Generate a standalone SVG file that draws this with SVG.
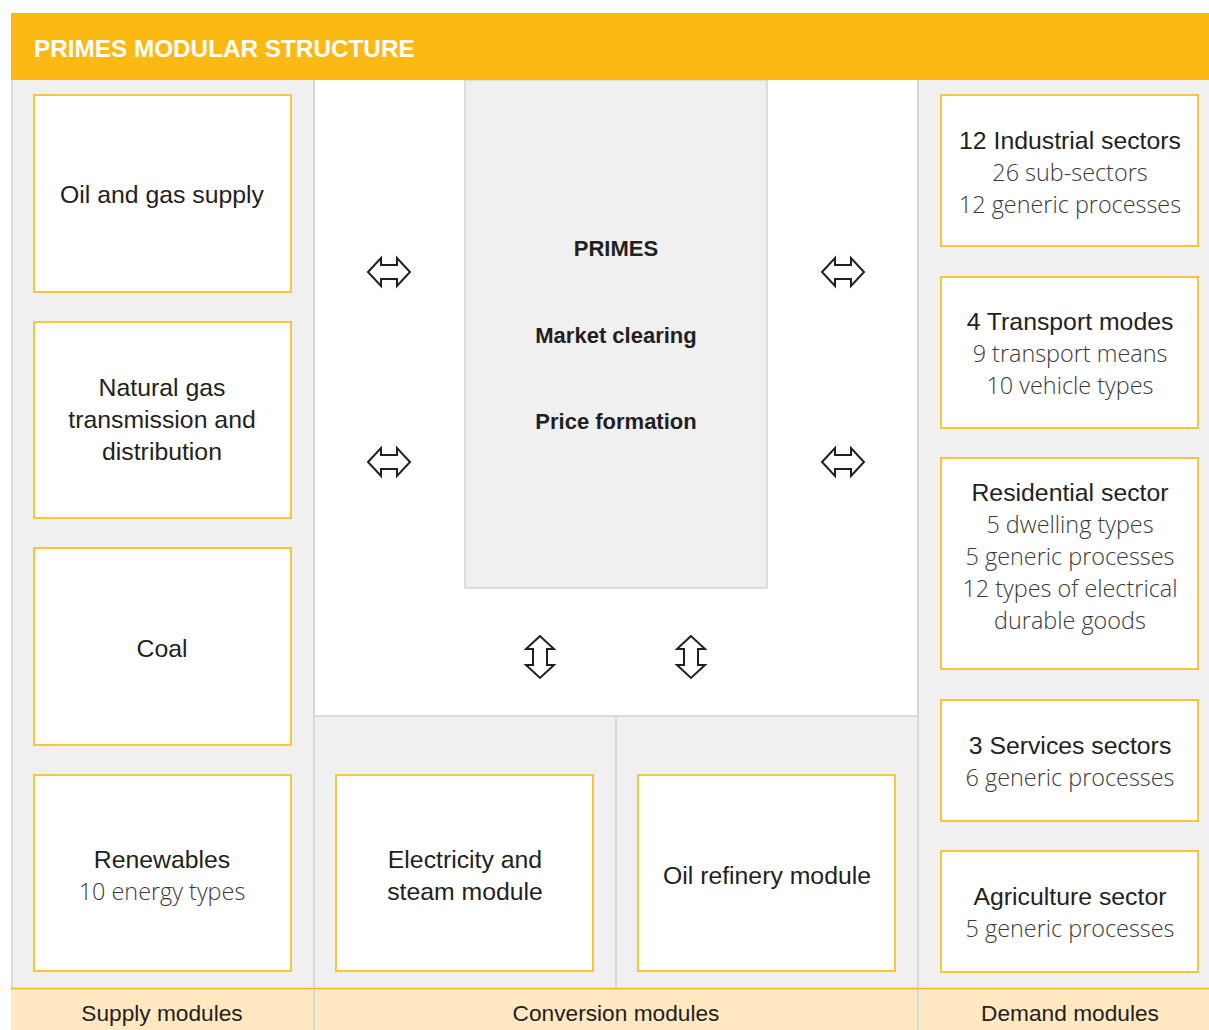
<svg xmlns="http://www.w3.org/2000/svg" width="1209" height="1030" viewBox="0 0 1209 1030">
<defs>
<style>
.col{fill:#F0F0F0;}
.sep{stroke:#D9D9D9;stroke-width:2;fill:none;}
.box{fill:#FFFFFF;stroke:#FDC33A;stroke-width:2;}
.t{font-family:"Liberation Sans",Arial,sans-serif;font-size:24.8px;fill:#231F20;text-anchor:middle;}
.s{font-family:"Open Sans","Liberation Sans",sans-serif;font-weight:300;font-size:23.4px;fill:#3A3A3A;text-anchor:middle;}
.b{font-family:"Liberation Sans",Arial,sans-serif;font-weight:bold;font-size:22px;fill:#231F20;text-anchor:middle;}
.f{font-family:"Liberation Sans",Arial,sans-serif;font-size:22.7px;fill:#231F20;text-anchor:middle;}
.arr{fill:#FFFFFF;stroke:#231F20;stroke-width:2;stroke-linejoin:miter;}
</style>
<path id="ha" d="M-21,0 L-8,-14 L-8,-7 L8,-7 L8,-14 L21,0 L8,14 L8,7 L-8,7 L-8,14 Z"/>
<path id="va" d="M0,-21 L-14,-8 L-7,-8 L-7,8 L-14,8 L0,21 L14,8 L7,8 L7,-8 L14,-8 Z"/>
</defs>
<rect x="0" y="0" width="1209" height="1030" fill="#FFFFFF"/>
<g id="background">
<rect class="col" x="11" y="80" width="303" height="908"/>
<rect x="314" y="80" width="604" height="636" fill="#FFFFFF"/>
<rect class="col" x="314" y="716" width="604" height="272"/>
<rect class="col" x="918" y="80" width="291" height="908"/>
<rect x="465" y="80" width="302" height="508" fill="#F0F0F0" stroke="#D5D5D5" stroke-width="1.5"/>
<line class="sep" x1="12" y1="80" x2="12" y2="1030"/>
<line class="sep" x1="314" y1="80" x2="314" y2="1030"/>
<line class="sep" x1="918" y1="80" x2="918" y2="1030"/>
<line class="sep" x1="314" y1="716" x2="918" y2="716"/>
<line class="sep" x1="616" y1="716" x2="616" y2="988"/>
</g>
<g id="header">
<rect x="11" y="13" width="1198" height="67" fill="#FDB913"/>
<text x="34" y="57" font-family="Liberation Sans, Arial, sans-serif" font-weight="bold" font-size="24.3" fill="#FFFFFF">PRIMES MODULAR STRUCTURE</text>
</g>
<g id="footer">
<rect x="11" y="988" width="1198" height="42" fill="#FFE8C2"/>
<line x1="11" y1="988.5" x2="1209" y2="988.5" stroke="#FDB913" stroke-width="1.5"/>
<line class="sep" x1="314" y1="989" x2="314" y2="1030"/>
<line class="sep" x1="918" y1="989" x2="918" y2="1030"/>
<text class="f" x="162" y="1021">Supply modules</text>
<text class="f" x="616" y="1021">Conversion modules</text>
<text class="f" x="1070" y="1021">Demand modules</text>
</g>
<g id="node-oil-gas">
<rect class="box" x="34" y="95" width="257" height="197"/>
<text class="t" x="162" y="203">Oil and gas supply</text>
</g>
<g id="node-natural-gas">
<rect class="box" x="34" y="322" width="257" height="196"/>
<text class="t" x="162" y="396">Natural gas</text>
<text class="t" x="162" y="428">transmission and</text>
<text class="t" x="162" y="460">distribution</text>
</g>
<g id="node-coal">
<rect class="box" x="34" y="548" width="257" height="197"/>
<text class="t" x="162" y="657">Coal</text>
</g>
<g id="node-renewables">
<rect class="box" x="34" y="775" width="257" height="196"/>
<text class="t" x="162" y="868">Renewables</text>
<text class="s" x="162" y="900">10 energy types</text>
</g>
<g id="node-primes">
<text class="b" x="616" y="256">PRIMES</text>
<text class="b" x="616" y="343">Market clearing</text>
<text class="b" x="616" y="429">Price formation</text>
</g>
<g id="node-electricity">
<rect class="box" x="336" y="775" width="257" height="196"/>
<text class="t" x="465" y="868">Electricity and</text>
<text class="t" x="465" y="900">steam module</text>
</g>
<g id="node-refinery">
<rect class="box" x="638" y="775" width="257" height="196"/>
<text class="t" x="767" y="884">Oil refinery module</text>
</g>
<g id="node-industrial">
<rect class="box" x="941" y="95" width="257" height="151"/>
<text class="t" x="1070" y="149">12 Industrial sectors</text>
<text class="s" x="1070" y="181">26 sub-sectors</text>
<text class="s" x="1070" y="213">12 generic processes</text>
</g>
<g id="node-transport">
<rect class="box" x="941" y="277" width="257" height="151"/>
<text class="t" x="1070" y="330">4 Transport modes</text>
<text class="s" x="1070" y="362">9 transport means</text>
<text class="s" x="1070" y="394">10 vehicle types</text>
</g>
<g id="node-residential">
<rect class="box" x="941" y="458" width="257" height="211"/>
<text class="t" x="1070" y="501">Residential sector</text>
<text class="s" x="1070" y="533">5 dwelling types</text>
<text class="s" x="1070" y="565">5 generic processes</text>
<text class="s" x="1070" y="597">12 types of electrical</text>
<text class="s" x="1070" y="629">durable goods</text>
</g>
<g id="node-services">
<rect class="box" x="941" y="700" width="257" height="121"/>
<text class="t" x="1070" y="754">3 Services sectors</text>
<text class="s" x="1070" y="786">6 generic processes</text>
</g>
<g id="node-agriculture">
<rect class="box" x="941" y="851" width="257" height="121"/>
<text class="t" x="1070" y="905">Agriculture sector</text>
<text class="s" x="1070" y="937">5 generic processes</text>
</g>
<g id="connectors">
<use href="#ha" class="arr" transform="translate(389,272)"/>
<use href="#ha" class="arr" transform="translate(389,462)"/>
<use href="#ha" class="arr" transform="translate(843,272)"/>
<use href="#ha" class="arr" transform="translate(843,462)"/>
<use href="#va" class="arr" transform="translate(540,657)"/>
<use href="#va" class="arr" transform="translate(691,657)"/>
</g>
</svg>
